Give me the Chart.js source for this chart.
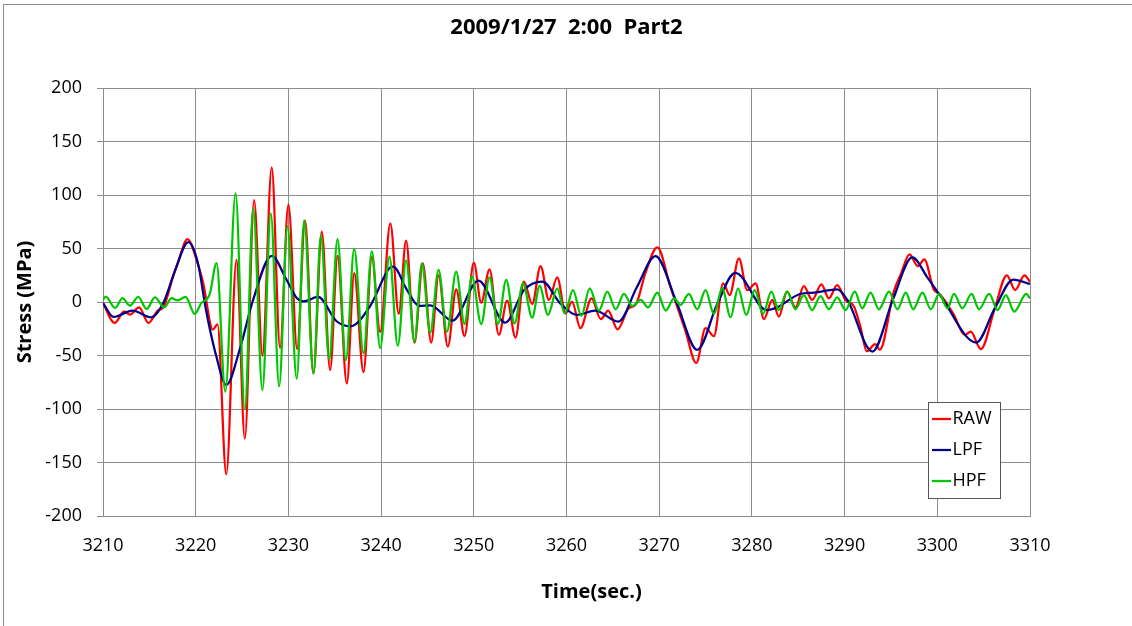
<!DOCTYPE html>
<html><head><meta charset="utf-8">
<script src="https://cdn.jsdelivr.net/npm/chart.js@4.4.1/dist/chart.umd.min.js"></script>
<style>html,body{margin:0;padding:0;background:#fff;} canvas{display:block;}</style>
</head><body>
<canvas id="c" width="1132" height="626"></canvas>
<script>
const TITLE = '2009/1/27  2:00  Part2';
const X_TITLE = 'Time(sec.)';
const Y_TITLE = 'Stress (MPa)';
const SERIES_LABELS = ['RAW', 'LPF', 'HPF'];
const X_MIN = 3210, X_MAX = 3310, X_STEP = 10;
const Y_MIN = -200, Y_MAX = 200, Y_STEP = 50;

// [time (s), stress (MPa)] (extrema and turning points)
const raw = [[3210,-1],[3211.26,-19.6],[3212.3,-8.7],[3212.9,-11.8],[3213.9,-5],[3214.9,-19.6],[3215.9,-8],[3216.5,-5],[3217.5,22],[3218.2,40],[3219.1,58.7],[3220.25,35],[3220.8,18],[3221.85,-25.8],[3222.35,-21],[3223.3,-161],[3224.4,39.4],[3225.3,-127.6],[3226.3,95.3],[3227.2,-50],[3228.2,125.8],[3229.1,-42.9],[3230.0,91],[3230.94,-43.8],[3231.8,76],[3232.7,-66.8],[3233.6,65.8],[3234.5,-63.7],[3235.3,43.2],[3236.3,-76],[3237.1,27],[3238.1,-65.5],[3239.0,42],[3239.9,-28],[3241.0,73.5],[3241.9,-11.2],[3242.7,57.3],[3243.6,-38],[3244.5,36],[3245.4,-38],[3246.2,25],[3247.2,-41.7],[3248.1,11.8],[3249.0,-31.8],[3250.0,36.8],[3250.8,-0.6],[3251.7,30.5],[3252.7,-30.8],[3253.6,1.2],[3254.5,-33.3],[3255.4,19],[3256.3,-1.9],[3257.2,33.6],[3258.1,1.9],[3259.0,23],[3259.9,-10.6],[3260.6,0.3],[3261.5,-24.5],[3262.7,3.4],[3263.7,-16],[3264.5,-8],[3265.5,-25.5],[3266.7,-6],[3267.5,-2],[3268.5,26.7],[3269.8,51],[3271.2,14.3],[3272.8,-26],[3274.0,-57],[3275.0,-24.5],[3275.9,-32],[3276.9,17.4],[3277.6,6.5],[3278.6,40.7],[3279.5,11],[3280.4,17.4],[3281.3,-16],[3282.2,1.9],[3282.9,-13.7],[3283.8,9.6],[3284.7,-5],[3285.6,14.9],[3286.5,1.9],[3287.5,16.5],[3288.3,3.4],[3289.2,15.8],[3290.1,1.9],[3291.0,-4],[3291.7,-23],[3292.4,-46],[3293.3,-39.4],[3293.8,-44.7],[3295.3,9.6],[3296.1,26.7],[3297.0,44.4],[3297.9,33.5],[3298.6,39.8],[3299.6,12],[3300.3,7],[3301.7,-10.6],[3303.0,-30.7],[3303.6,-27.6],[3304.7,-44],[3306.2,-6],[3307.5,25],[3308.4,11.2],[3309.4,25],[3310,19]];

const lpf = [[3210,-1],[3211.15,-14],[3213.2,-8],[3215.2,-14.3],[3216.5,-1],[3217.8,30],[3219.2,55.9],[3220.25,36],[3221.1,-7],[3222.2,-50],[3223.3,-77.5],[3224.75,-44.4],[3226.2,2.2],[3228.2,43.2],[3229.8,20.8],[3230.9,3.7],[3231.6,0.6],[3233.2,4.7],[3235.2,-18],[3236.7,-22.7],[3238.8,-4],[3240.9,31.7],[3241.3,33],[3242.8,11.2],[3244.1,-3.7],[3245.3,-3.1],[3247.7,-17.4],[3250.5,20],[3253.4,-19.3],[3255.4,11],[3257.4,19],[3259.3,-1],[3261.1,-12.1],[3263.1,-8],[3265.6,-18.3],[3267.6,14],[3269.6,42.9],[3271.9,-1],[3274.1,-44.7],[3276.3,-1],[3278.2,27.3],[3281.6,-7.5],[3282.7,-5],[3285.2,7.5],[3286.7,8.7],[3289.2,11.8],[3290.3,1.9],[3293.0,-46.3],[3295.2,2],[3297.3,41.6],[3299.0,22],[3300.4,5],[3304.2,-37.9],[3306.2,-6],[3308.2,21],[3310,16.8]];

const hpf = [[3210,2],[3210.3,5],[3211.3,-5.6],[3212.1,3.7],[3212.9,-3.4],[3213.8,4.7],[3214.7,-6.5],[3215.6,4.3],[3216.6,-5],[3217.4,3.7],[3218.0,1.5],[3218.9,4.7],[3219.9,-11.2],[3220.6,-1],[3221.5,6.8],[3222.25,36.3],[3223.2,-83.9],[3224.3,101.6],[3225.3,-100.3],[3226.2,87.6],[3227.2,-82.3],[3228.1,82.9],[3229.0,-78.6],[3229.9,71],[3230.9,-71.7],[3231.7,76],[3232.7,-66.8],[3233.5,61.8],[3234.4,-53.7],[3235.3,58.7],[3236.2,-54.3],[3237.1,49.7],[3238.1,-48],[3239.0,47.2],[3239.9,-43],[3240.9,42.4],[3241.8,-41],[3242.7,39],[3243.6,-37],[3244.4,36],[3245.3,-28.7],[3246.2,30],[3247.1,-27.7],[3248.1,28.3],[3249.0,-20.6],[3249.8,23.7],[3250.8,-20.6],[3251.7,23],[3252.6,-20.6],[3253.5,20.6],[3254.4,-20],[3255.3,17.4],[3256.3,-14.6],[3257.1,15],[3258.0,-12.1],[3259.0,12.8],[3259.8,-10.6],[3260.7,11],[3261.6,-13],[3262.5,12.7],[3263.5,-8],[3264.4,9.6],[3265.3,-6.8],[3266.2,7.5],[3267.1,-3.7],[3268.0,1.9],[3268.8,-5],[3269.8,8.7],[3270.7,-8],[3271.6,3.4],[3272.3,-2.8],[3273.2,7.5],[3274.1,-6.8],[3275.0,11.2],[3275.9,-11.2],[3276.8,12.7],[3277.7,-14.3],[3278.5,12.7],[3279.4,-12.1],[3280.3,11.2],[3281.2,-11],[3282.1,9.6],[3282.9,-7.5],[3283.8,9.6],[3284.7,-6.8],[3285.6,6.5],[3286.5,-7.5],[3287.4,5.6],[3288.3,-6.8],[3289.2,4.3],[3290.1,-7.5],[3291.1,9.6],[3291.9,-5.9],[3292.8,8.7],[3293.7,-6.8],[3294.8,9.6],[3295.7,-6.8],[3296.6,8.7],[3297.4,-6.8],[3298.4,8.7],[3299.3,-6.8],[3300.2,7.5],[3301.1,-5.9],[3301.8,7.5],[3302.7,-5.9],[3303.7,7.5],[3304.5,-6.8],[3305.6,7.5],[3306.5,-7.5],[3307.4,6.5],[3308.3,-9],[3309.6,7.5],[3310,3.4]];

const COLORS = ['#ff0000', '#00008c', '#00c800'];
const GRID = '#8c8c8c';
const FONT = '"Open Sans", "DejaVu Sans", sans-serif';

const toPts = arr => arr.map(p => ({x: p[0], y: p[1]}));

const deco = {
  id: 'deco',
  beforeDraw(chart) {
    const c = chart.ctx;
    c.save(); c.fillStyle = '#fff'; c.fillRect(0, 0, chart.width, chart.height); c.restore();
  },
  afterDraw(chart) {
    const c = chart.ctx, a = chart.chartArea;
    c.save();
    c.strokeStyle = GRID; c.lineWidth = 1;
    c.strokeRect(3.5, 4.5, chart.width + 20, chart.height + 20);
    // x axis title
    c.font = 'bold 20px ' + FONT; c.fillStyle = '#000';
    c.textAlign = 'center'; c.textBaseline = 'middle';
    c.fillText(X_TITLE, (a.left + a.right) / 2 + 25, 592);
    // legend
    const lx = a.right - 101.5, ly = a.bottom - 113.5, lw = 72, lh = 96;
    c.fillStyle = '#fff'; c.fillRect(lx, ly, lw, lh);
    c.strokeStyle = '#555'; c.lineWidth = 1; c.strokeRect(lx, ly, lw, lh);
    c.font = '18px ' + FONT; c.textAlign = 'left'; c.textBaseline = 'middle';
    chart.data.datasets.forEach((ds, i) => {
      const y = ly + 16.5 + i * 31;
      c.strokeStyle = ds.borderColor; c.lineWidth = 2.25;
      c.beginPath(); c.moveTo(lx + 3.5, y); c.lineTo(lx + 22.5, y); c.stroke();
      c.fillStyle = '#000'; c.fillText(ds.label, lx + 24, y);
    });
    c.restore();
  }
};

new Chart(document.getElementById('c'), {
  type: 'line',
  data: {
    datasets: [
      {label: SERIES_LABELS[0], data: toPts(raw), borderColor: COLORS[0], order: 2},
      {label: SERIES_LABELS[1], data: toPts(lpf), borderColor: COLORS[1], order: 1},
      {label: SERIES_LABELS[2], data: toPts(hpf), borderColor: COLORS[2], order: 0}
    ].map(d => Object.assign(d, {borderWidth: 2.25, pointRadius: 0, fill: false, cubicInterpolationMode: 'monotone'}))
  },
  options: {
    responsive: false,
    animation: false,
    devicePixelRatio: 1,
    layout: {padding: {left: 0, right: 102, top: 0, bottom: 0}},
    plugins: {
      legend: {display: false},
      tooltip: {enabled: false},
      title: {
        display: true, text: TITLE, fullSize: false, color: '#000',
        font: {family: FONT, size: 22, weight: 'bold'},
        padding: {top: 15, bottom: 46.6}
      }
    },
    scales: {
      x: {
        type: 'linear', min: X_MIN, max: X_MAX,
        grid: {color: GRID, lineWidth: 1, drawTicks: false},
        border: {color: GRID, width: 1},
        ticks: {stepSize: X_STEP, padding: 19, color: '#000', font: {family: FONT, size: 18}, maxRotation: 0, callback: v => String(v)},
        afterFit: s => { s.height = 110; s.paddingLeft = 0; s.paddingRight = 0; }
      },
      y: {
        min: Y_MIN, max: Y_MAX,
        grid: {color: GRID, lineWidth: 1, tickLength: 6},
        border: {color: GRID, width: 1},
        ticks: {stepSize: Y_STEP, padding: 15, color: '#000', font: {family: FONT, size: 18}, callback: v => String(v)},
        title: {display: true, text: Y_TITLE, color: '#000', font: {family: FONT, size: 20, weight: 'bold'}, padding: {top: 13, bottom: 0}},
        afterFit: s => { s.width = 103; s.paddingTop = 0; s.paddingBottom = 0; }
      }
    }
  },
  plugins: [deco]
});
</script>
</body></html>
